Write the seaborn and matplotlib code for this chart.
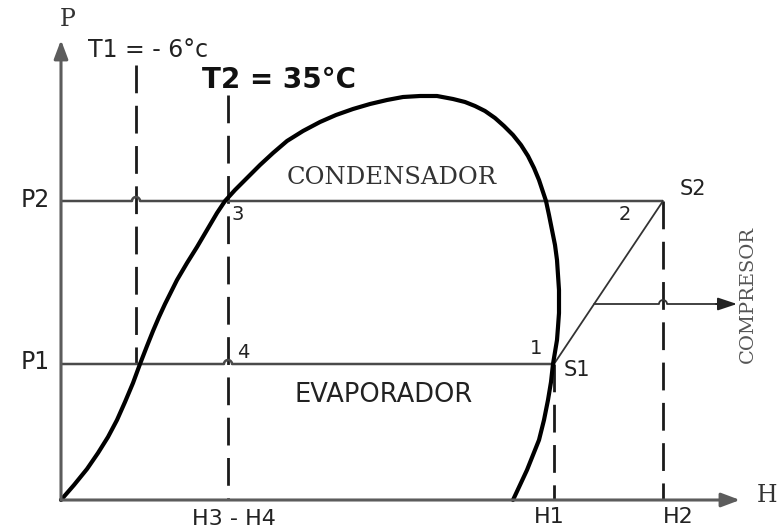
import numpy as np
import pandas as pd
import matplotlib
matplotlib.use("Agg")
import matplotlib.pyplot as plt
import seaborn as sns

# Saturation dome of the refrigerant on the pressure-enthalpy plane
dome_h = [0, 13, 26, 37, 47, 56, 64, 72, 79, 86, 92, 98, 104, 116, 126, 136, 146,
          156, 164, 174, 184, 199, 212, 226, 242, 259, 275, 292, 309, 326, 342,
          359, 376, 392, 404, 414, 424, 434, 443, 452, 460, 467, 473, 478, 482,
          485, 488, 491, 494, 496, 497, 498, 498, 497, 496, 494, 492, 490, 487,
          483, 478, 472, 466, 459, 452]
dome_p = [0, 15, 31, 47, 63, 80, 98, 117, 136, 154, 169, 183, 196, 220, 237, 253,
          270, 287, 299, 310, 320, 335, 347, 359, 369, 378, 385, 391, 396, 400,
          403, 404, 404, 401, 398, 394, 389, 382, 374, 365, 355, 344, 332, 320,
          308, 299, 285, 270, 255, 240, 225, 210, 187, 173, 160, 148, 136, 118,
          100, 80, 60, 45, 30, 15, 0]

# Cycle states
pressures = {"P1": 136, "P2": 299}
enthalpies = {"H3 - H4": 167, "H1": 493, "H2": 602}
t1_h = 75              # -6 °C isotherm position
p_compressor = 196     # height of the compressor work arrow

AXIS_COLOR = "#5c5c5c"
LINE_COLOR = "#4a4a4a"
TEXT_COLOR = "#222222"

sns.set_theme(style="white")
plt.rcParams["font.family"] = ["DejaVu Sans"]

fig = plt.figure(figsize=(7.81, 5.30), dpi=100)
ax = fig.add_axes([0, 0, 1, 1])


def hop_line(h0, h1, p, hops, r=4.0):
    """Horizontal line from h0 to h1 at pressure p with small bridges over crossings."""
    xs, ys = [h0], [p]
    for hx in sorted(hops):
        t = np.linspace(np.pi, 0, 14)
        xs += list(hx + r * np.cos(t))
        ys += list(p + r * np.sin(t))
    xs.append(h1)
    ys.append(p)
    return xs, ys


P1, P2 = pressures["P1"], pressures["P2"]
H34, H1, H2 = enthalpies["H3 - H4"], enthalpies["H1"], enthalpies["H2"]

# Axes with arrow heads
arrow_kw = dict(arrowstyle="-|>,head_length=0.8,head_width=0.3", color=AXIS_COLOR,
                lw=2.2, shrinkA=0, shrinkB=0, mutation_scale=14)
ax.annotate("", xy=(0, 460), xytext=(0, 0), arrowprops=arrow_kw)
ax.annotate("", xy=(679, 0), xytext=(0, 0), arrowprops=arrow_kw)

# Dashed isotherms / enthalpy markers
dash_kw = dict(color="#1a1a1a", lw=2.0, dashes=(10, 4.5))
ax.plot([t1_h, t1_h], [435, P1], **dash_kw)
ax.plot([H34, H34], [405, 0], **dash_kw)
ax.plot([H1, H1], [P1, 0], **dash_kw)
ax.plot([H2, H2], [P2, 0], **dash_kw)

# Condensing and evaporating pressure lines
xs, ys = hop_line(0, H2, P2, [t1_h])
ax.plot(xs, ys, color=LINE_COLOR, lw=1.8, solid_capstyle="butt")
xs, ys = hop_line(0, H1, P1, [H34])
ax.plot(xs, ys, color=LINE_COLOR, lw=1.8, solid_capstyle="butt")

# Compression S1 -> S2
ax.plot([H1, H2], [P1, P2], color="#333333", lw=1.3)

# Compressor work arrow
h_start = H1 + (p_compressor - P1) / (P2 - P1) * (H2 - H1)
xs, ys = hop_line(h_start, 660, p_compressor, [H2])
ax.plot(xs, ys, color="#333333", lw=1.3)
ax.annotate("", xy=(676, p_compressor), xytext=(655, p_compressor),
            arrowprops=dict(arrowstyle="-|>,head_length=0.9,head_width=0.3",
                            color="#222222", lw=1.3, shrinkA=0, shrinkB=0,
                            mutation_scale=13))

# Saturation dome
dome = pd.DataFrame({"H": dome_h, "P": dome_p})
sns.lineplot(data=dome, x="H", y="P", sort=False, estimator=None, color="black",
             linewidth=3.0, ax=ax)
ax.lines[-1].set_solid_joinstyle("round")
ax.set_xlim(-61, 720)
ax.set_ylim(-30, 500)
ax.axis("off")

# Text
sans = dict(family="DejaVu Sans", color=TEXT_COLOR)
serif = dict(family="DejaVu Serif", color="#333333")

ax.text(7, 480, "P", fontsize=17, ha="center", va="center", **serif)
ax.text(706, 5, "H", fontsize=17, ha="center", va="center", **serif)

ax.text(27, 450, "T1 = - 6°c", fontsize=17, ha="left", va="center", **sans)
ax.text(141, 420, "T2 = 35°C", fontsize=20, fontweight="bold", ha="left",
        va="center", family="DejaVu Sans", color="#111111")

ax.text(-11, P2 + 1, "P2", fontsize=17, ha="right", va="center", **sans)
ax.text(-11, P1 + 2, "P1", fontsize=17, ha="right", va="center", **sans)

ax.text(H34 + 10, P2 - 14, "3", fontsize=14, ha="center", va="center", **sans)
ax.text(H34 + 15, P1 + 12, "4", fontsize=14, ha="center", va="center", **sans)
ax.text(H2 - 38, P2 - 14, "2", fontsize=14, ha="center", va="center", **sans)
ax.text(H1 - 18, P1 + 16, "1", fontsize=14, ha="center", va="center", **sans)
ax.text(H2 + 30, P2 + 12, "S2", fontsize=15, ha="center", va="center", **sans)
ax.text(H1 + 23, P1 - 6, "S1", fontsize=15, ha="center", va="center", **sans)

ax.text(331, 322, "CONDENSADOR", fontsize=17.5, ha="center", va="center", **serif)
ax.text(323, 105, "EVAPORADOR", fontsize=18.5, ha="center", va="center", **sans)
ax.text(687, 206, "COMPRESOR", fontsize=14, rotation=90, ha="center",
        va="center", family="DejaVu Serif", color="#555555")

ax.text(H34 + 6, -19, "H3 - H4", fontsize=16, ha="center", va="center", **sans)
ax.text(H1 - 5, -17, "H1", fontsize=16, ha="center", va="center", **sans)
ax.text(H2 + 15, -17, "H2", fontsize=16, ha="center", va="center", **sans)

fig.savefig("out.png", dpi=100)
